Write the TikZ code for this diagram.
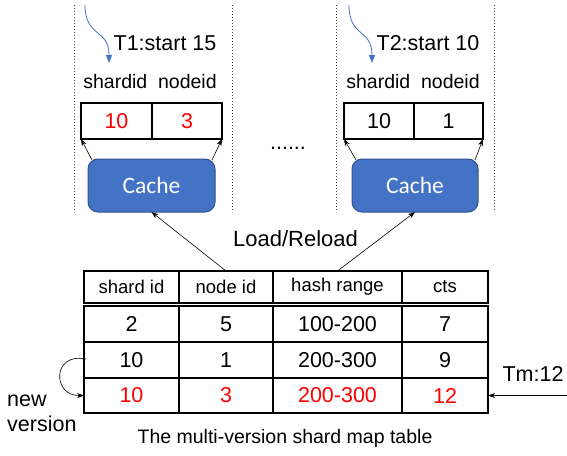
\documentclass[tikz,border=0pt]{standalone}
\usepackage{fontspec}
\setmainfont{Liberation Sans}
\newfontfamily\calibrifont{Carlito}
\usetikzlibrary{arrows.meta,calc}
\definecolor{cacheblue}{HTML}{4472C4}
\definecolor{cacheedge}{HTML}{2F528F}
\definecolor{hotred}{HTML}{FF0000}
\definecolor{dotgray}{HTML}{404040}
\begin{document}
\begin{tikzpicture}[x=1pt,y=-1pt,
  txt/.style={font=\fontsize{21.5}{25}\selectfont, inner sep=0pt},
  hdrtxt/.style={font=\fontsize{19.5}{23}\selectfont, inner sep=0pt},
  cell/.style={draw=black, line width=1.2pt, rectangle, inner sep=0pt, outer sep=0pt, font=\fontsize{21.5}{25}\selectfont},
  hcell/.style={cell, font=\fontsize{18.5}{22}\selectfont},
  redtxt/.style={text=hotred},
  cachebox/.style={draw=cacheedge, fill=cacheblue, line width=1pt, rounded corners=10pt, text=white, font=\calibrifont\fontsize{23.5}{28}\selectfont, inner sep=0pt, outer sep=0pt},
  panel/.style={draw=dotgray, dotted, line width=1pt},
  conn/.style={draw=black, line width=0.6pt, -{Stealth[length=7pt,width=5pt]}},
  blueconn/.style={draw=cacheblue, line width=0.8pt, -{Triangle[length=8pt,width=6pt]}}
]
\useasboundingbox (0,0) rectangle (567,455);

% panel boundaries
\coordinate (p1t) at (74,5); \coordinate (p1b) at (74,210);
\coordinate (p2t) at (232,5); \coordinate (p2b) at (232,210);
\coordinate (p3t) at (336,5); \coordinate (p3b) at (336,210);
\coordinate (p4t) at (494,5); \coordinate (p4b) at (494,210);
\draw[panel] (p1t) -- (p1b);
\draw[panel] (p2t) -- (p2b);
\draw[panel] (p3t) -- (p3b);
\draw[panel] (p4t) -- (p4b);

% left panel
\node[txt, anchor=center] (t1) at (165,43) {T1:start 15};
\node[hdrtxt] (lh) at (150,82) {shardid\ \ nodeid};
\node[cell, minimum width=71pt, minimum height=36pt, redtxt] (la) at (116.5,121) {10};
\node[cell, minimum width=70pt, minimum height=36pt, redtxt] (lb) at (187,121) {3};
\node[cachebox, minimum width=127pt, minimum height=53pt] (c1) at (151.5,185.5) {Cache};
\coordinate (b1s) at (85,5);
\draw[blueconn] (b1s) .. controls (85,38) and (109,28) .. (109,63);
\draw[conn] ($(c1.north west)+(4,1)$) -- (la.south west);
\draw[conn] ($(c1.north east)+(-3,1)$) -- (lb.south east);

% right panel
\node[txt] (t2) at (428,43) {T2:start 10};
\node[hdrtxt] (rh) at (413,82) {shardid\ \ nodeid};
\node[cell, minimum width=70pt, minimum height=36pt] (ra) at (379,121) {10};
\node[cell, minimum width=69pt, minimum height=36pt] (rb) at (448.5,121) {1};
\node[cachebox, minimum width=126pt, minimum height=53pt] (c2) at (415,185.5) {Cache};
\coordinate (b2s) at (349,5);
\draw[blueconn] (b2s) .. controls (349,38) and (372,28) .. (372,63);
\draw[conn] ($(c2.north west)+(4,1)$) -- (ra.south west);
\draw[conn] ($(c2.north east)+(-3,1)$) -- (rb.south east);

\node[txt] (dots) at (288,148) {......};

% main table header
\node[hcell, minimum width=95pt, minimum height=32pt] (h1) at (131.5,287) {shard id};
\node[hcell, minimum width=94pt, minimum height=32pt] (h2) at (226,287) {node id};
\node[hcell, minimum width=129pt, minimum height=32pt] (h3) at (337.5,287) {hash range};
\node[hcell, minimum width=86pt, minimum height=32pt] (h4) at (445,287) {cts};

% rows
\node[cell, minimum width=95pt, minimum height=36pt] (r1a) at (131.5,324) {2};
\node[cell, minimum width=94pt, minimum height=36pt] (r1b) at (226,324) {5};
\node[cell, minimum width=129pt, minimum height=36pt] (r1c) at (337.5,324) {100-200};
\node[cell, minimum width=86pt, minimum height=36pt] (r1d) at (445,324) {7};

\node[cell, minimum width=95pt, minimum height=36pt] (r2a) at (131.5,360) {10};
\node[cell, minimum width=94pt, minimum height=36pt] (r2b) at (226,360) {1};
\node[cell, minimum width=129pt, minimum height=36pt] (r2c) at (337.5,360) {200-300};
\node[cell, minimum width=86pt, minimum height=36pt] (r2d) at (445,360) {9};

\node[cell, minimum width=95pt, minimum height=35pt, redtxt] (r3a) at (131.5,395.5) {10};
\node[cell, minimum width=94pt, minimum height=35pt, redtxt] (r3b) at (226,395.5) {3};
\node[cell, minimum width=129pt, minimum height=35pt, redtxt] (r3c) at (337.5,395.5) {200-300};
\node[cell, minimum width=86pt, minimum height=35pt, redtxt] (r3d) at (445,395.5) {12};

% load/reload
\node[txt, font=\fontsize{22}{26}\selectfont] (lr) at (295.5,239) {Load/Reload};
\draw[conn] (h2.north) -- (c1.south);
\draw[conn] (h3.north) -- (c2.south);

% new version
\draw[conn] ($(r2a.west)+(2,-1)$) .. controls (52,352) and (52,396) .. (r3a.west);
\node[txt, align=left, anchor=west] (nv) at (7,413) {new\\version};

% Tm
\node[txt] (tm) at (533,373.5) {Tm:12};
\coordinate (tms) at (567,395.5);
\draw[conn] (tms) -- (r3d.east);

% caption
\node[txt, font=\fontsize{19.5}{24}\selectfont] (cap) at (285,438) {The multi-version shard map table};
\end{tikzpicture}
\end{document}
